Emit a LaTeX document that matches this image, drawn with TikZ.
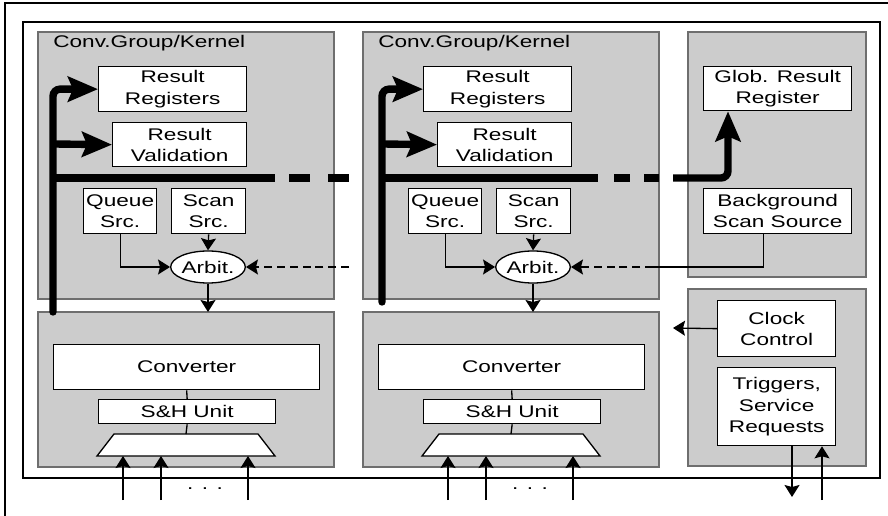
\documentclass[tikz,border=0pt]{standalone}
\usepackage{fontspec}
\setmainfont{Liberation Sans}[FakeStretch=1.34]
\usetikzlibrary{arrows.meta,shapes.geometric}

\definecolor{panelgray}{RGB}{204,204,204}
\definecolor{panelline}{RGB}{110,110,110}

\newcommand{\lbl}{\fontsize{9.6}{12}\selectfont}

\tikzset{
  panel/.style={fill=panelgray,draw=panelline,line width=0.6pt},
  blk/.style={draw,fill=white,line width=0.75pt,inner sep=0pt,align=center,anchor=north west,font=\lbl},
  wh/.style 2 args={minimum width=#1*0.02cm,minimum height=#2*0.02cm},
  sig/.style={line width=0.75pt,-{Stealth[length=0.24cm,width=0.3cm,inset=0.04cm]}},
  bus/.style={line width=4.2pt},
  busarr/.style={bus,-{Stealth[length=0.6cm,width=0.5cm,inset=0.1cm]}},
  dsh/.style={dash pattern=on 4.5pt off 2.8pt},
}

\begin{document}
\begin{tikzpicture}[x=0.02cm,y=-0.02cm]
\useasboundingbox (0,0) rectangle (888,516);
% frames
\draw[line width=0.8pt] (5,516) -- (5,3) -- (888,3);
\draw[line width=0.8pt] (23,22) rectangle (880,478);

% two conversion kernels, shifted by \o
\foreach \o/\b/\e/\k in {0/53/312/1, 325/382/302/2}{
  \draw[panel] (38+\o,32) rectangle (334+\o,299);
  \draw[panel] (38+\o,312) rectangle (334+\o,467);
  \node[anchor=base west,font=\lbl,inner sep=0pt] (title\k) at (53+\o,48) {Conv.Group/Kernel};
  \node[blk,wh={148}{45}] (rr\k) at (98+\o,66) {Result\\Registers};
  \node[blk,wh={134}{44}] (rv\k) at (112+\o,122) {Result\\Validation};
  \node[blk,wh={73}{45}] (qs\k) at (83+\o,188) {Queue\\Src.};
  \node[blk,wh={74}{45}] (ss\k) at (171+\o,188) {Scan\\Src.};
  \node[draw,fill=white,ellipse,line width=0.75pt,inner sep=0pt,wh={74}{32},font=\lbl] (arb\k) at (208+\o,267) {Arbit.};
  \node[blk,wh={266}{45}] (conv\k) at (53+\o,344) {Converter};
  \node[blk,wh={177}{24}] (sh\k) at (98+\o,399) {S\&H Unit};
  % input multiplexer
  \draw[fill=white,line width=0.75pt] (97+\o,456) -- (114+\o,434) -- (258+\o,434) -- (275+\o,456) -- cycle;
  \coordinate (mux\k) at (186+\o,434);
  \draw[line width=0.75pt] (conv\k.south) -- (sh\k.north) (sh\k.south) -- (mux\k);
  \foreach \x in {123,161,248}
    \draw[sig] (\x+\o,500) -- (\x+\o,456);
  \node[font=\lbl,inner sep=0pt] (dots\k) at (205+\o,489) {. . .};
  % arbiter
  \draw[sig] (ss\k.south) -- (arb\k.north);
  \draw[sig] (qs\k.south) |- (arb\k.west);
  \coordinate (cin\k) at (208+\o,312);
  \draw[sig] (arb\k.south) -- (cin\k);
  % result bus
  \draw[busarr,rounded corners=4pt,line cap=round] (\b,\e) |- (rr\k.west);
  \draw[busarr] (\b,144) -- (rv\k.west);
}

% global part
\draw[panel] (688,32) rectangle (866,277);
\node[blk,wh={148}{44}] (grr) at (703,66) {Glob. Result\\Register};
\node[blk,wh={148}{45}] (bss) at (703,188) {Background\\Scan Source};
\draw[panel] (688,289) rectangle (866,466);
\node[blk,wh={118}{56}] (cc) at (717,300) {Clock\\Control};
\node[blk,wh={118}{78}] (trg) at (717,367) {Triggers,\\Service\\Requests};

% bus between kernels
\draw[bus] (53,178) -- (275,178) (289,178) -- (310,178) (328,178) -- (349,178);
\draw[bus] (382,178) -- (598,178) (614,178) -- (630,178) (644,178) -- (659,178);
\coordinate (busup) at (728,178);
\draw[busarr,rounded corners=4pt] (673,178) -- (busup) -- (busup |- grr.south);

% background source request
\coordinate (arbin1) at (349,267);
\draw[sig,dsh] (arbin1) -- (arb1.east);
\coordinate (bsl) at (653,267);
\draw[line width=0.75pt] ([xshift=-0.28cm]bss.south) |- (bsl);
\draw[sig,dsh] (bsl) -- (arb2.east);

% clock and trigger signals
\coordinate (ccout) at (673,328);
\draw[sig] (cc.west) -- (ccout);
\coordinate (trgout) at (792,497);
\coordinate (trgin) at (822,500);
\draw[sig] (trgout |- trg.south) -- (trgout);
\draw[sig] (trgin) -- (trgin |- trg.south);
\end{tikzpicture}
\end{document}
